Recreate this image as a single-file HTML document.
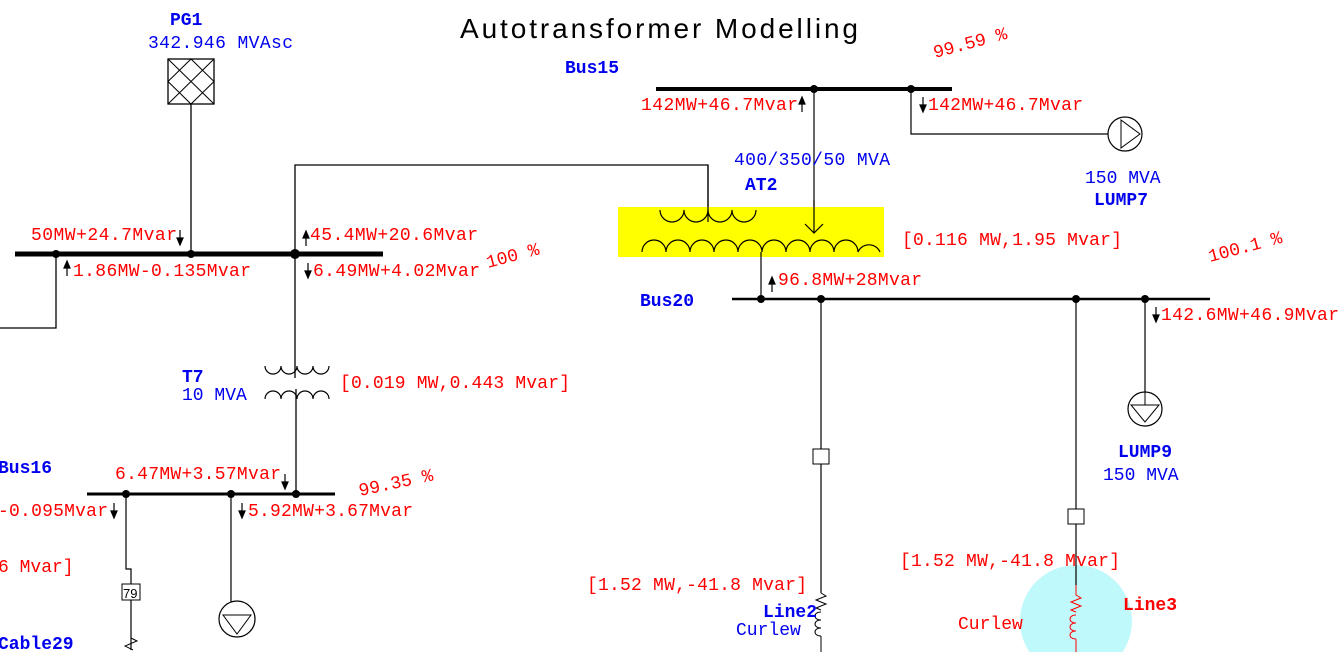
<!DOCTYPE html>
<html><head><meta charset="utf-8"><style>
html,body{margin:0;padding:0;background:#fff;}
svg{display:block;}
text.t{font-family:"Liberation Mono","DejaVu Sans Mono","Courier New",monospace;font-size:18px;}
.r{fill:#f00;}
.b{fill:#0000ee;}
.bb{fill:#0000ee;font-weight:bold;}
</style></head><body>
<svg width="1341" height="652" viewBox="0 0 1341 652" xmlns="http://www.w3.org/2000/svg">
<text x="460" y="38" font-family="Liberation Sans, sans-serif" font-size="28" textLength="398" fill="#000">Autotransformer Modelling</text>

<!-- Left bus -->
<line x1="15" y1="254" x2="383" y2="254" stroke="#000" stroke-width="5"/>
<g fill="#000"><circle cx="56" cy="254" r="4"/><circle cx="191" cy="254" r="4"/><circle cx="295" cy="254" r="5"/></g>
<polyline points="56,254 56,328 0,328" fill="none" stroke="#000" stroke-width="1.3"/>
<rect x="168" y="59" width="46" height="45" fill="#fff" stroke="#000" stroke-width="1.3"/>
<path d="M168,59 L214,104 M214,59 L168,104 M191,59 L214,81.5 L191,104 L168,81.5 Z" fill="none" stroke="#000" stroke-width="1"/>
<line x1="191" y1="104" x2="191" y2="254" stroke="#000" stroke-width="1.3"/>
<polyline points="295,254 295,165 708,165 708,222" fill="none" stroke="#000" stroke-width="1.3"/>
<line x1="295" y1="254" x2="295" y2="378" stroke="#000" stroke-width="1.3"/>
<line x1="296" y1="389" x2="296" y2="494" stroke="#000" stroke-width="1.3"/>
<path d="M265,366 a8,8 0 0 0 16,0 a8,8 0 0 0 16,0 a8,8 0 0 0 16,0 a8,8 0 0 0 16,0" fill="none" stroke="#000" stroke-width="1.2"/>
<path d="M265,399 a8,8 0 0 1 16,0 a8,8 0 0 1 16,0 a8,8 0 0 1 16,0 a8,8 0 0 1 16,0" fill="none" stroke="#000" stroke-width="1.2"/>

<!-- arrows -->
<g stroke="#000" stroke-width="1.2" fill="#000">
<path d="M180,230 V244"/><path d="M177,238 L183,238 L180,245 Z"/>
<path d="M67,276 V262"/><path d="M64,268 L70,268 L67,261 Z"/>
<path d="M306,246 V232"/><path d="M303,238 L309,238 L306,231 Z"/>
<path d="M308,263 V277"/><path d="M305,271 L311,271 L308,278 Z"/>
<path d="M285,474 V488"/><path d="M282,482 L288,482 L285,489 Z"/>
<path d="M114,503 V517"/><path d="M111,511 L117,511 L114,518 Z"/>
<path d="M242,503 V517"/><path d="M239,511 L245,511 L242,518 Z"/>
<path d="M802,112 V98"/><path d="M799,104 L805,104 L802,97 Z"/>
<path d="M923,97 V111"/><path d="M920,105 L926,105 L923,112 Z"/>
<path d="M772,292 V278"/><path d="M769,284 L775,284 L772,277 Z"/>
<path d="M1156,307 V321"/><path d="M1153,315 L1159,315 L1156,322 Z"/>
</g>

<text class="t bb" x="170" y="25">PG1</text>
<text class="t b" x="148" y="48" textLength="145">342.946 MVAsc</text>
<text class="t r" x="31" y="240" textLength="146">50MW+24.7Mvar</text>
<text class="t r" x="73" y="276" textLength="178">1.86MW-0.135Mvar</text>
<text class="t r" x="310" y="240" textLength="168">45.4MW+20.6Mvar</text>
<text class="t r" x="313" y="276" textLength="167">6.49MW+4.02Mvar</text>
<text class="t r" x="488" y="268" transform="rotate(-15 488 268)">100 %</text>
<text class="t bb" x="182" y="382">T7</text>
<text class="t b" x="182" y="400">10 MVA</text>
<text class="t r" x="340" y="388" textLength="230">[0.019 MW,0.443 Mvar]</text>

<!-- Bus16 -->
<line x1="87" y1="494" x2="335" y2="494" stroke="#000" stroke-width="3"/>
<g fill="#000"><circle cx="126" cy="494" r="4"/><circle cx="231" cy="494" r="4"/><circle cx="296" cy="494" r="4"/></g>
<text class="t bb" x="-2" y="473">Bus16</text>
<text class="t r" x="115" y="479" textLength="166">6.47MW+3.57Mvar</text>
<text class="t r" x="-2" y="516" textLength="110">-0.095Mvar</text>
<text class="t r" x="248" y="516" textLength="165">5.92MW+3.67Mvar</text>
<text class="t r" x="360" y="496" transform="rotate(-12 360 496)">99.35 %</text>
<text class="t r" x="-2" y="572">6 Mvar]</text>
<polyline points="126,494 126,569 131,569 131,650" fill="none" stroke="#000" stroke-width="1.2"/>
<rect x="122" y="584" width="18" height="16" fill="#fff" stroke="#000"/>
<text x="123" y="598" font-family="Liberation Sans,sans-serif" font-size="13" fill="#000">79</text>
<path d="M131,638 l6,3 -12,5 8,4" fill="none" stroke="#000"/>
<text class="t bb" x="-2" y="649">Cable29</text>
<line x1="231" y1="494" x2="231" y2="602" stroke="#000" stroke-width="1.2"/>
<line x1="237" y1="602" x2="237" y2="616" stroke="#000" stroke-width="1"/>
<line x1="231" y1="602" x2="237" y2="602" stroke="#000" stroke-width="1"/>
<circle cx="237" cy="619" r="18" fill="#fff" stroke="#000" stroke-width="1.2"/>
<path d="M223,615 L251,615 L237,634 Z" fill="none" stroke="#000"/>

<!-- Bus15 -->
<text class="t bb" x="565" y="73">Bus15</text>
<line x1="656" y1="89" x2="952" y2="89" stroke="#000" stroke-width="4"/>
<g fill="#000"><circle cx="814" cy="89" r="4"/><circle cx="911" cy="89" r="4"/></g>
<text class="t r" x="641" y="110" textLength="157">142MW+46.7Mvar</text>
<text class="t r" x="928" y="110" textLength="155">142MW+46.7Mvar</text>
<text class="t r" x="935" y="58" transform="rotate(-15 935 58)">99.59 %</text>
<polyline points="911,89 911,134 1108,134" fill="none" stroke="#000" stroke-width="1.2"/>
<circle cx="1125" cy="134" r="17" fill="#fff" stroke="#000" stroke-width="1.2"/>
<path d="M1121,120 L1121,148 L1140,134 Z" fill="none" stroke="#000"/>
<text class="t b" x="1085" y="183">150 MVA</text>
<text class="t bb" x="1094" y="205">LUMP7</text>
<line x1="814" y1="89" x2="814" y2="233" stroke="#000" stroke-width="1.2"/>

<!-- AT2 -->
<text class="t b" x="734" y="165" textLength="156">400/350/50 MVA</text>
<text class="t bb" x="745" y="190">AT2</text>
<rect x="618" y="207" width="266" height="50" fill="#ffff00"/>
<line x1="708" y1="165" x2="708" y2="222" stroke="#000" stroke-width="1.2"/>
<line x1="814" y1="200" x2="814" y2="233" stroke="#000" stroke-width="1.2"/>
<path d="M805,224 L814,233 L823,224" fill="none" stroke="#000" stroke-width="1.2"/>
<path d="M660,210 a12,12 0 0 0 24,0 a12,12 0 0 0 24,0 a12,12 0 0 0 24,0 a12,12 0 0 0 24,0" fill="none" stroke="#000" stroke-width="1.2"/>
<path d="M642,252 a12,12 0 0 1 24,0 a12,12 0 0 1 24,0 a12,12 0 0 1 24,0 a12,12 0 0 1 24,0 a12,12 0 0 1 24,0 a12,12 0 0 1 24,0 a12,12 0 0 1 24,0 a12,12 0 0 1 24,0 a12,12 0 0 1 24,0 a12,12 0 0 1 22,0" fill="none" stroke="#000" stroke-width="1.2"/>
<line x1="761" y1="252" x2="761" y2="299" stroke="#000" stroke-width="1.2"/>
<text class="t r" x="902" y="245" textLength="220">[0.116 MW,1.95 Mvar]</text>

<!-- Bus20 -->
<text class="t bb" x="640" y="306">Bus20</text>
<line x1="732" y1="299" x2="1210" y2="299" stroke="#000" stroke-width="2.5"/>
<g fill="#000"><circle cx="761" cy="299" r="4"/><circle cx="821" cy="299" r="4"/><circle cx="1076" cy="299" r="4"/><circle cx="1145" cy="299" r="4"/></g>
<text class="t r" x="778" y="285" textLength="144">96.8MW+28Mvar</text>
<text class="t r" x="1210" y="262" transform="rotate(-15 1210 262)">100.1 %</text>
<text class="t r" x="1161" y="320" textLength="178">142.6MW+46.9Mvar</text>
<line x1="1145" y1="299" x2="1145" y2="409" stroke="#000" stroke-width="1.2"/>
<circle cx="1145" cy="409" r="17" fill="#fff" stroke="#000" stroke-width="1.2"/>
<line x1="1145" y1="392" x2="1145" y2="405" stroke="#000"/>
<path d="M1131,405 L1159,405 L1145,422 Z" fill="none" stroke="#000"/>
<text class="t bb" x="1118" y="457">LUMP9</text>
<text class="t b" x="1103" y="480">150 MVA</text>

<!-- Line2 -->
<line x1="821" y1="299" x2="821" y2="593" stroke="#000" stroke-width="1.2"/>
<rect x="813" y="449" width="16" height="15" fill="#fff" stroke="#000"/>
<path d="M821,593 l5,3 -10,4 10,4 -10,4 5,2" fill="none" stroke="#000"/>
<path d="M821,612 c-8,0 -8,8 0,8 c-8,0 -8,8 0,8 c-8,0 -8,8 0,8 M821,636 L821,652" fill="none" stroke="#000"/>
<text class="t r" x="587" y="590" textLength="220">[1.52 MW,-41.8 Mvar]</text>
<text class="t bb" x="763" y="617">Line2</text>
<text class="t b" x="736" y="635">Curlew</text>

<!-- Line3 -->
<circle cx="1076" cy="621" r="56" fill="#bff9fb"/>
<line x1="1076" y1="299" x2="1076" y2="585" stroke="#000" stroke-width="1.2"/>
<rect x="1068" y="509" width="16" height="15" fill="#fff" stroke="#000"/>
<path d="M1076,585 L1076,595 l5,3 -10,4 10,4 -10,4 5,2" fill="none" stroke="#f00"/>
<path d="M1076,615 c-8,0 -8,8 0,8 c-8,0 -8,8 0,8 c-8,0 -8,8 0,8 M1076,639 L1076,652" fill="none" stroke="#f00"/>
<text class="t r" x="900" y="566" textLength="220">[1.52 MW,-41.8 Mvar]</text>
<text class="t r" x="958" y="629">Curlew</text>
<text class="t r" x="1123" y="610" font-weight="bold">Line3</text>
</svg>
</body></html>
